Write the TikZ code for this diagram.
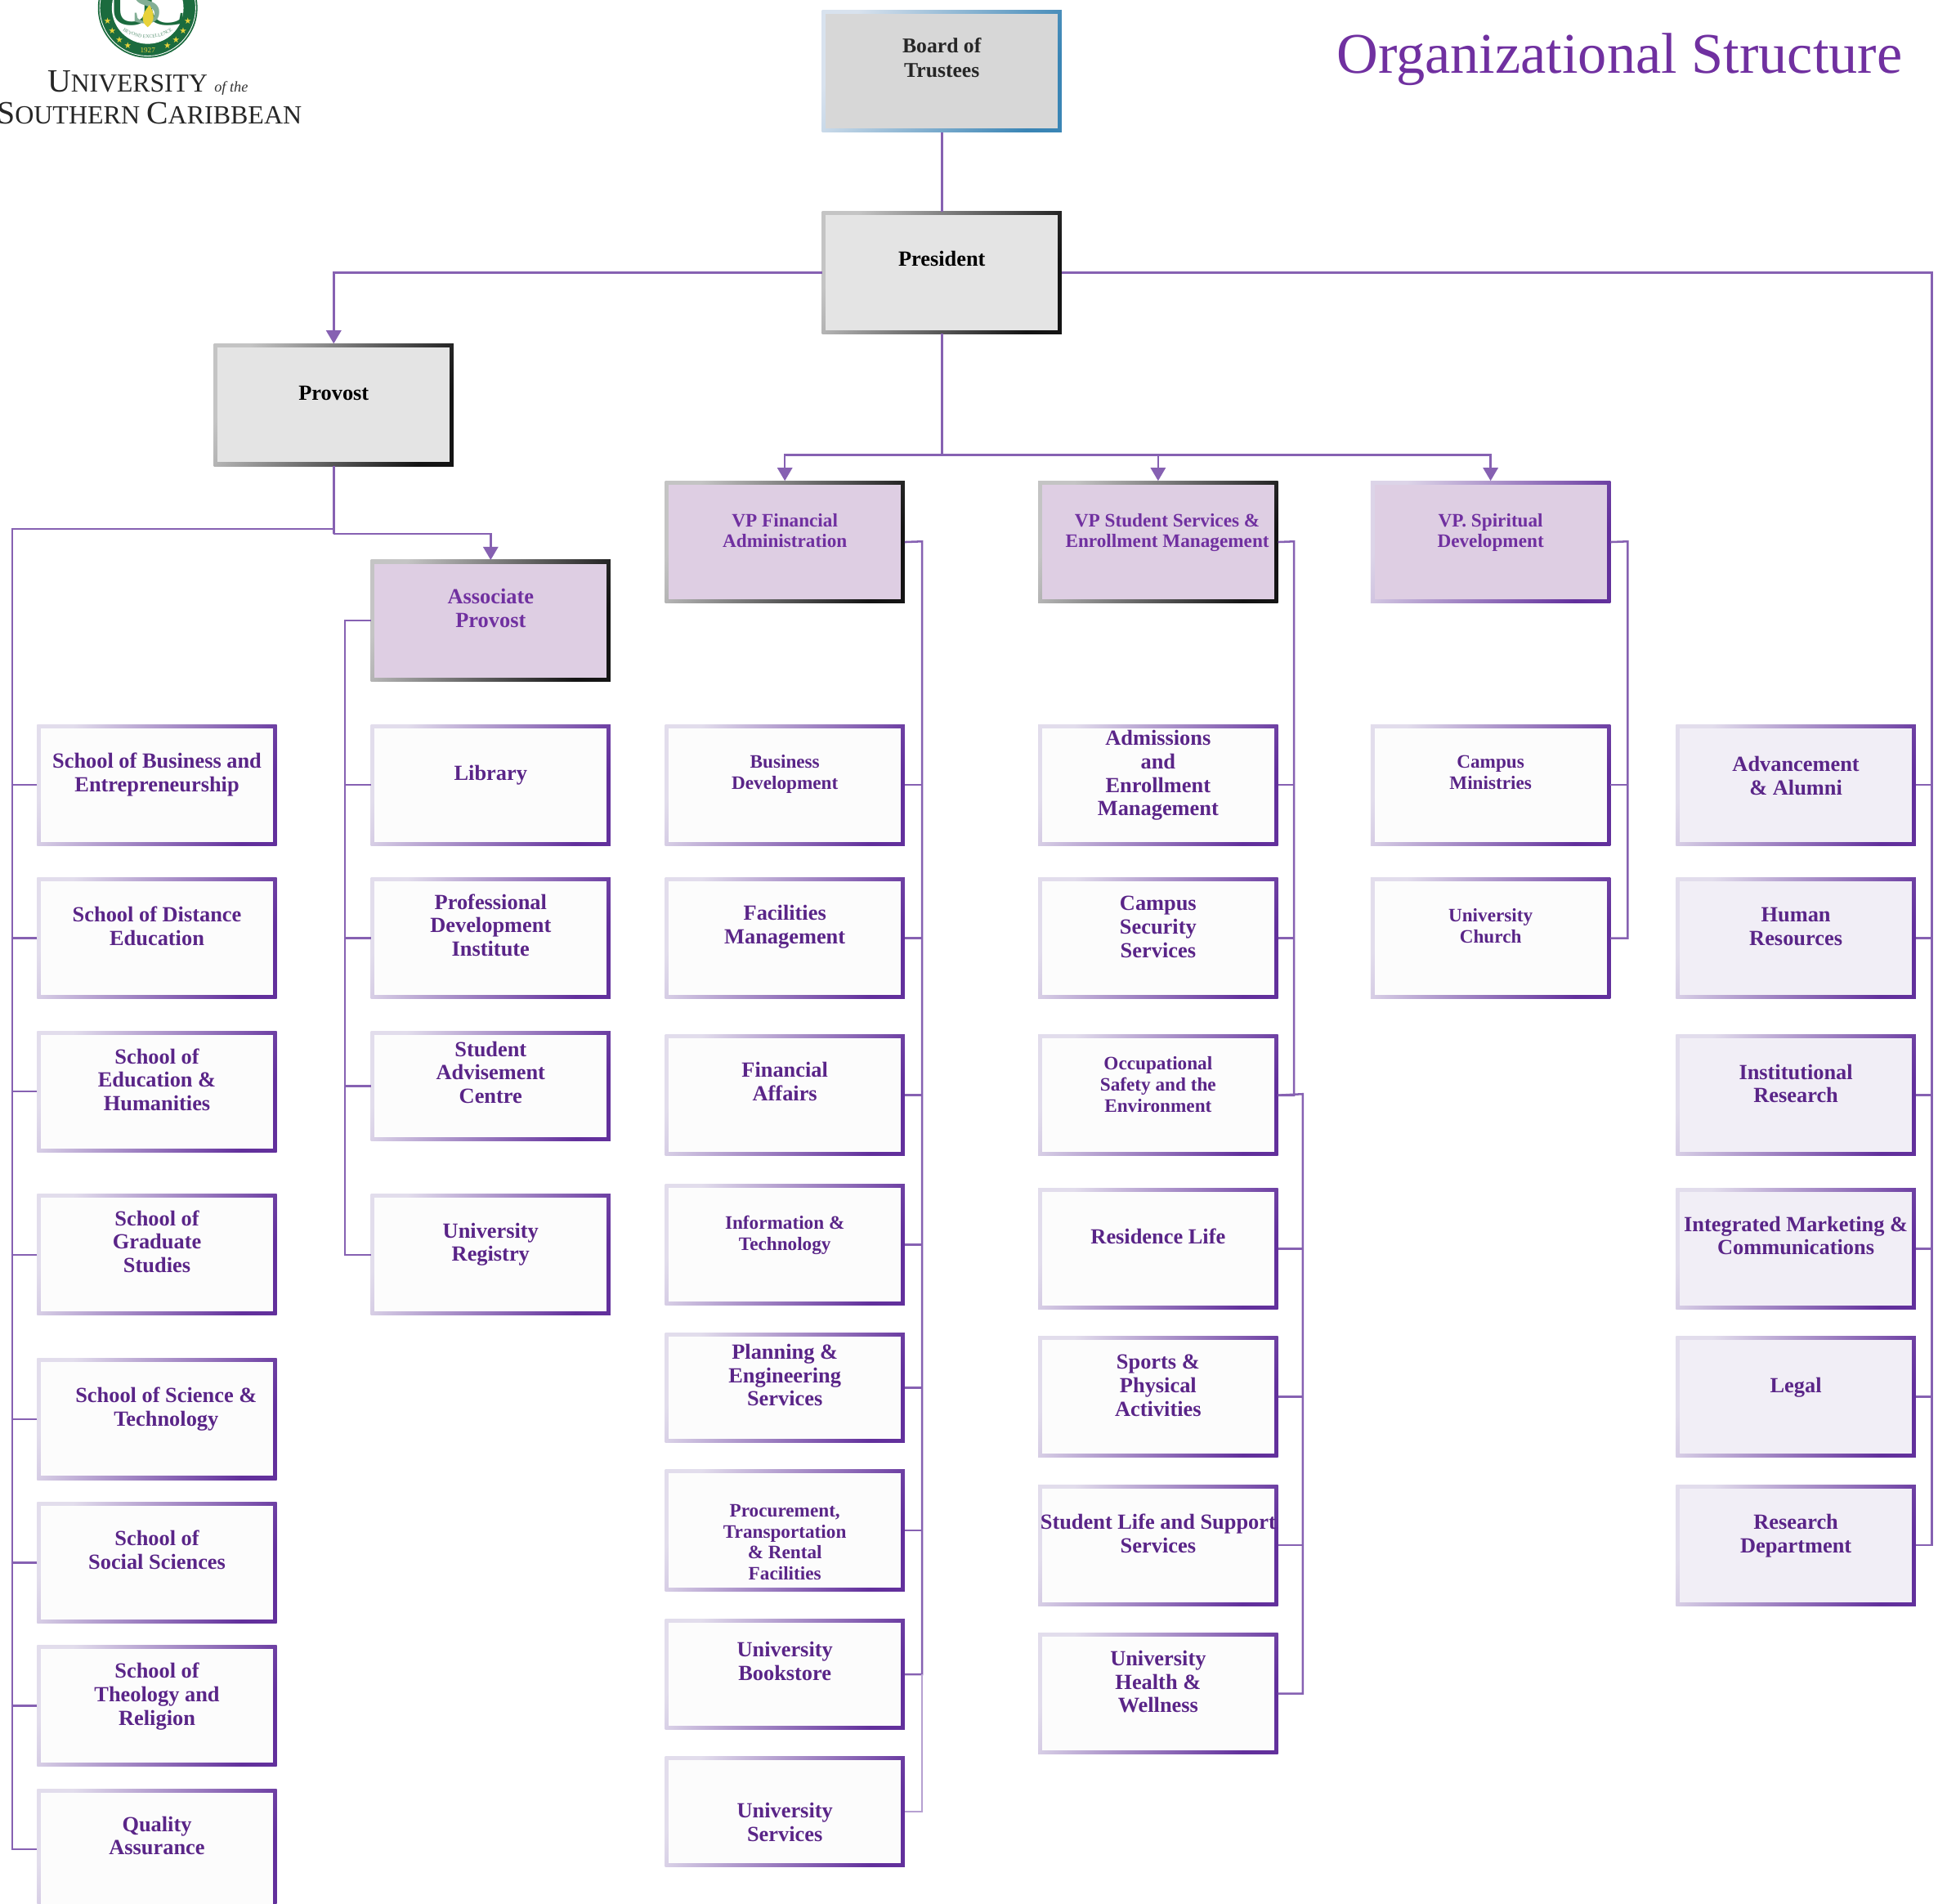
\documentclass[tikz,border=0pt]{standalone}
\usepackage{fontspec}
\usepackage{graphicx}
\setmainfont{Liberation Serif}
\newfontfamily\symf{DejaVu Sans}
\usetikzlibrary{arrows.meta,decorations.text}
\definecolor{conn}{HTML}{8661B2}
\definecolor{txd}{HTML}{5A2588}
\definecolor{txv}{HTML}{7030A0}
\definecolor{grn}{HTML}{1B6B3E}
\definecolor{ylw}{HTML}{E8D23A}
\definecolor{bdl}{HTML}{D8E2EE}
\definecolor{bdd}{HTML}{3A85B5}
\definecolor{bdf}{HTML}{D7D7D7}
\definecolor{gl}{HTML}{C4C4C4}
\definecolor{gd}{HTML}{141414}
\definecolor{gf}{HTML}{E4E4E4}
\definecolor{vf}{HTML}{DECEE3}
\definecolor{sl}{HTML}{DCD4E8}
\definecolor{pd}{HTML}{62309C}
\definecolor{cl}{HTML}{E2DDEC}
\definecolor{cf}{HTML}{FCFCFC}
\definecolor{ff}{HTML}{F1EEF6}
\tikzset{
 x=0.43pt,y=-0.43pt,
 frame/.style n args={3}{rectangle,inner sep=0pt,outer sep=0pt,top color=#1,bottom color=#2,shading angle=65,
  path picture={\fill[#3] ([shift={(1.3pt,1.3pt)}]path picture bounding box.south west) rectangle ([shift={(-1.3pt,-1.3pt)}]path picture bounding box.north east);}},
 boardbox/.style={frame={bdl}{bdd}{bdf}},
 topbox/.style={frame={gl}{gd}{gf}},
 vpbox/.style={frame={gl}{gd}{vf}},
 spbox/.style={frame={sl}{pd}{vf}},
 childbox/.style={frame={cl}{pd}{cf}},
 staffbox/.style={frame={cl}{pd}{ff}},
 lbl/.style={align=center,inner sep=0pt,font=\bfseries\fontsize{7.5pt}{8.17pt}\selectfont,text=txd},
 lblm/.style={align=center,inner sep=0pt,font=\bfseries\fontsize{6.6pt}{7.3pt}\selectfont,text=txd},
 lblv/.style={align=center,inner sep=0pt,font=\bfseries\fontsize{6.6pt}{7.1pt}\selectfont,text=txv},
 lbla/.style={lbl,text=txv},
 lblk/.style={lbl,text=black},
 lblb/.style={lbl,font=\bfseries\fontsize{7.3pt}{8.6pt}\selectfont,text=black!85},
 link/.style={draw=conn,line width=0.72pt},
 arr/.style={link,-{Triangle[length=4.6pt,width=5.2pt]}},
}
\newcommand\orgbox[9]{%
 \pgfmathsetmacro\bw{(#4-#2)*0.43}\pgfmathsetmacro\bh{(#5-#3)*0.43}%
 \node[#6,minimum width=\bw pt,minimum height=\bh pt] (#1) at ({(#2+#4)/2},{(#3+#5)/2}) {};
 \node[#7] (#1-t) at ({(#2+#4)/2},#8) {\rule{0pt}{6.3pt}#9\rule[-1.6pt]{0pt}{1.6pt}};}
\begin{document}
\begin{tikzpicture}
\useasboundingbox (0,0) rectangle (1568,1540);
\fill[white] (0,0) rectangle (1568,1540);
% logo
\fill[grn] (119.5,6.5) circle (40.3);
\draw[white,line width=0.25pt] (119.5,6.5) circle (38.8);
\fill[white] (119.5,6.5) circle (29);
\node[inner sep=0pt,text=grn,font=\fontsize{23pt}{23pt}\selectfont] (sealu) at (106,3) {U};
\node[inner sep=0pt,text=grn,font=\fontsize{23pt}{23pt}\selectfont] (sealc) at (133,3) {C};
\node[inner sep=0pt,text=grn!55,font=\fontsize{20pt}{20pt}\selectfont] (seals) at (119,4) {S};
\fill[ylw] (119.5,22) .. controls (113,17) and (115,11) .. (121,4) .. controls (125,11) and (126,17) .. (119.5,22);
\node[inner sep=0pt,text=ylw,font=\fontsize{2.6pt}{3pt}\selectfont] (sealyear) at (119.5,40.5) {1927};
\foreach \a in {18,33,48,62,118,132,147,162}{\node[inner sep=0pt,text=ylw,font=\symf\fontsize{3pt}{3pt}\selectfont] at ({119.5+34.2*cos(\a)},{6.5+34.2*sin(\a)}) {★};}
\path[postaction={decorate,decoration={text along path,text align=center,text={|\fontsize{1.7pt}{2pt}\selectfont\color{grn!70}|BEYOND EXCELLENCE}}}] (94,18) .. controls (102,35) and (137,35) .. (145,18);
\node[anchor=base west,inner sep=0pt,text=black!85] (uni) at (38,74.5) {\fontsize{11.3pt}{12pt}\selectfont U\fontsize{9pt}{12pt}\selectfont NIVERSITY};
\node[anchor=base west,inner sep=0pt,text=black!80] (ofthe) at (173,74.5) {\fontsize{5.2pt}{6pt}\selectfont\itshape of the};
\node[anchor=base west,inner sep=0pt,text=black!85] (sc) at (-3,100) {\fontsize{11.3pt}{12pt}\selectfont S\fontsize{9.1pt}{12pt}\selectfont OUTHERN \fontsize{11.3pt}{12pt}\selectfont C\fontsize{9.1pt}{12pt}\selectfont ARIBBEAN};
% title
\node[anchor=base west,inner sep=0pt,text=txv,font=\fontsize{20pt}{24pt}\selectfont] (title) at (1081,59) {Organizational Structure};
% top
\orgbox{board}{665}{8}{859}{107}{boardbox}{lblb}{47}{Board of\\Trustees}
\orgbox{pres}{665}{171}{859}{270}{topbox}{lblk}{210}{President}
\orgbox{prov}{173}{278}{367}{377}{topbox}{lblk}{318}{Provost}
\orgbox{assoc}{300}{453}{494}{551}{vpbox}{lbla}{492.5}{Associate\\Provost}
\orgbox{vpf}{538}{389}{732}{488}{vpbox}{lblv}{429}{VP Financial\\Administration}
\orgbox{vps}{840}{389}{1034}{488}{vpbox}{lblv,xshift=3.2pt}{429}{VP Student Services \&\\Enrollment Management}
\orgbox{vpd}{1109}{389}{1303}{488}{spbox}{lblv}{429}{VP. Spiritual\\Development}
% schools
\orgbox{a1}{30}{586}{224}{684}{childbox}{lbl}{625.5}{School of Business and\\Entrepreneurship}
\orgbox{a2}{30}{710}{224}{808}{childbox}{lbl}{750}{School of Distance\\Education}
\orgbox{a3}{30}{834}{224}{932}{childbox}{lbl}{874}{School of\\Education \&\\Humanities}
\orgbox{a4}{30}{966}{224}{1064}{childbox}{lbl}{1005}{School of\\Graduate\\Studies}
\orgbox{a5}{30}{1099}{224}{1197}{childbox}{lbl,xshift=3.2pt}{1138.5}{School of Science \&\\Technology}
\orgbox{a6}{30}{1215}{224}{1313}{childbox}{lbl}{1254.5}{School of\\Social Sciences}
\orgbox{a7}{30}{1331}{224}{1429}{childbox}{lbl}{1371}{School of\\Theology and\\Religion}
\orgbox{a8}{30}{1447}{224}{1545}{childbox}{lbl}{1485.5}{Quality\\Assurance}
% associate
\orgbox{b1}{300}{586}{494}{684}{childbox}{lbl}{626}{Library}
\orgbox{b2}{300}{710}{494}{808}{childbox}{lbl}{749}{Professional\\Development\\Institute}
\orgbox{b3}{300}{834}{494}{923}{childbox}{lbl}{868}{Student\\Advisement\\Centre}
\orgbox{b4}{300}{966}{494}{1064}{childbox}{lbl}{1005.5}{University\\Registry}
% finance
\orgbox{c1}{538}{586}{732}{684}{childbox}{lblm}{624.5}{Business\\Development}
\orgbox{c2}{538}{710}{732}{808}{childbox}{lbl}{748.5}{Facilities\\Management}
\orgbox{c3}{538}{837}{732}{935}{childbox}{lbl}{875.5}{Financial\\Affairs}
\orgbox{c4}{538}{958}{732}{1056}{childbox}{lblm}{997.5}{Information \&\\Technology}
\orgbox{c5}{538}{1078}{732}{1167}{childbox}{lbl}{1113}{Planning \&\\Engineering\\Services}
\orgbox{c6}{538}{1189}{732}{1287}{childbox}{lblm}{1247}{Procurement,\\Transportation\\\& Rental\\Facilities}
\orgbox{c7}{538}{1310}{732}{1399}{childbox}{lbl}{1344.5}{University\\Bookstore}
\orgbox{c8}{538}{1421}{732}{1510}{childbox}{lbl}{1474.5}{University\\Services}
% student services
\orgbox{d1}{840}{586}{1034}{684}{childbox}{lbl}{626}{Admissions\\and\\Enrollment\\Management}
\orgbox{d2}{840}{710}{1034}{808}{childbox}{lbl}{750}{Campus\\Security\\Services}
\orgbox{d3}{840}{837}{1034}{935}{childbox}{lblm}{877}{Occupational\\Safety and the\\Environment}
\orgbox{d4}{840}{961}{1034}{1059}{childbox}{lbl}{1001}{Residence Life}
\orgbox{d5}{840}{1081}{1034}{1179}{childbox}{lbl}{1121}{Sports \&\\Physical\\Activities}
\orgbox{d6}{840}{1201}{1034}{1299}{childbox}{lbl}{1241}{Student Life and Support\\Services}
\orgbox{d7}{840}{1321}{1034}{1419}{childbox}{lbl}{1361}{University\\Health \&\\Wellness}
% spiritual
\orgbox{e1}{1109}{586}{1303}{684}{childbox}{lblm}{624.5}{Campus\\Ministries}
\orgbox{e2}{1109}{710}{1303}{808}{childbox}{lblm}{749}{University\\Church}
% staff
\orgbox{f1}{1356}{586}{1550}{684}{staffbox}{lbl}{628}{Advancement\\\& Alumni}
\orgbox{f2}{1356}{710}{1550}{808}{staffbox}{lbl}{750}{Human\\Resources}
\orgbox{f3}{1356}{837}{1550}{935}{staffbox}{lbl}{877}{Institutional\\Research}
\orgbox{f4}{1356}{961}{1550}{1059}{staffbox}{lbl}{1000}{Integrated Marketing \&\\Communications}
\orgbox{f5}{1356}{1081}{1550}{1179}{staffbox}{lbl}{1121}{Legal}
\orgbox{f6}{1356}{1201}{1550}{1299}{staffbox}{lbl}{1241}{Research\\Department}
% bus coordinates
\coordinate (busA) at (10,428);
\coordinate (busB) at (279,502);
\coordinate (busC) at (746,438);
\coordinate (busD) at (1047,438);
\coordinate (busD2) at (1054,885);
\coordinate (busE) at (1317,438);
\coordinate (busF) at (1563,220);
\coordinate (vpbar) at (762,368);
\coordinate (asbar) at (270,432);
% connectors
\draw[link] (board) -- (pres);
\draw[arr] (pres.west) -| (prov.north);
\draw[link] (pres.east) -- (pres.east -| busF) |- (f6.east);
\draw[link] (pres.south) -- (vpbar);
\draw[arr] (vpbar) -| (vpf.north);
\draw[arr] (vpbar) -| (vps.north);
\draw[arr] (vpbar) -| (vpd.north);
\draw[link] (prov.south) -- (asbar);
\draw[arr] (asbar) -| (assoc.north);
\draw[link] (prov.south) |- (busA) |- (a8.west);
\draw[link] (assoc.west) -| (busB) |- (b4.west);
\draw[link] (vpf.east) -- (busC) |- (c7.east);
\draw[conn!60,line width=0.4pt] (c7.east -| busC) |- (c8.east);
\draw[link] (vps.east) -- (busD) |- (d3.east);
\draw[link] (d3.east) -- (busD2) |- (d7.east);
\draw[link] (vpd.east) -- (busE) |- (e2.east);
\foreach \n in {a1,a2,a3,a4,a5,a6,a7}{\draw[link] (\n.west) -- (\n.west -| busA);}
\foreach \n in {b1,b2,b3}{\draw[link] (\n.west) -- (\n.west -| busB);}
\foreach \n in {c1,c2,c3,c4,c5,c6}{\draw[link] (\n.east) -- (\n.east -| busC);}
\foreach \n in {d1,d2}{\draw[link] (\n.east) -- (\n.east -| busD);}
\foreach \n in {d4,d5,d6}{\draw[link] (\n.east) -- (\n.east -| busD2);}
\draw[link] (e1.east) -- (e1.east -| busE);
\foreach \n in {f1,f2,f3,f4,f5}{\draw[link] (\n.east) -- (\n.east -| busF);}
\end{tikzpicture}
\end{document}
